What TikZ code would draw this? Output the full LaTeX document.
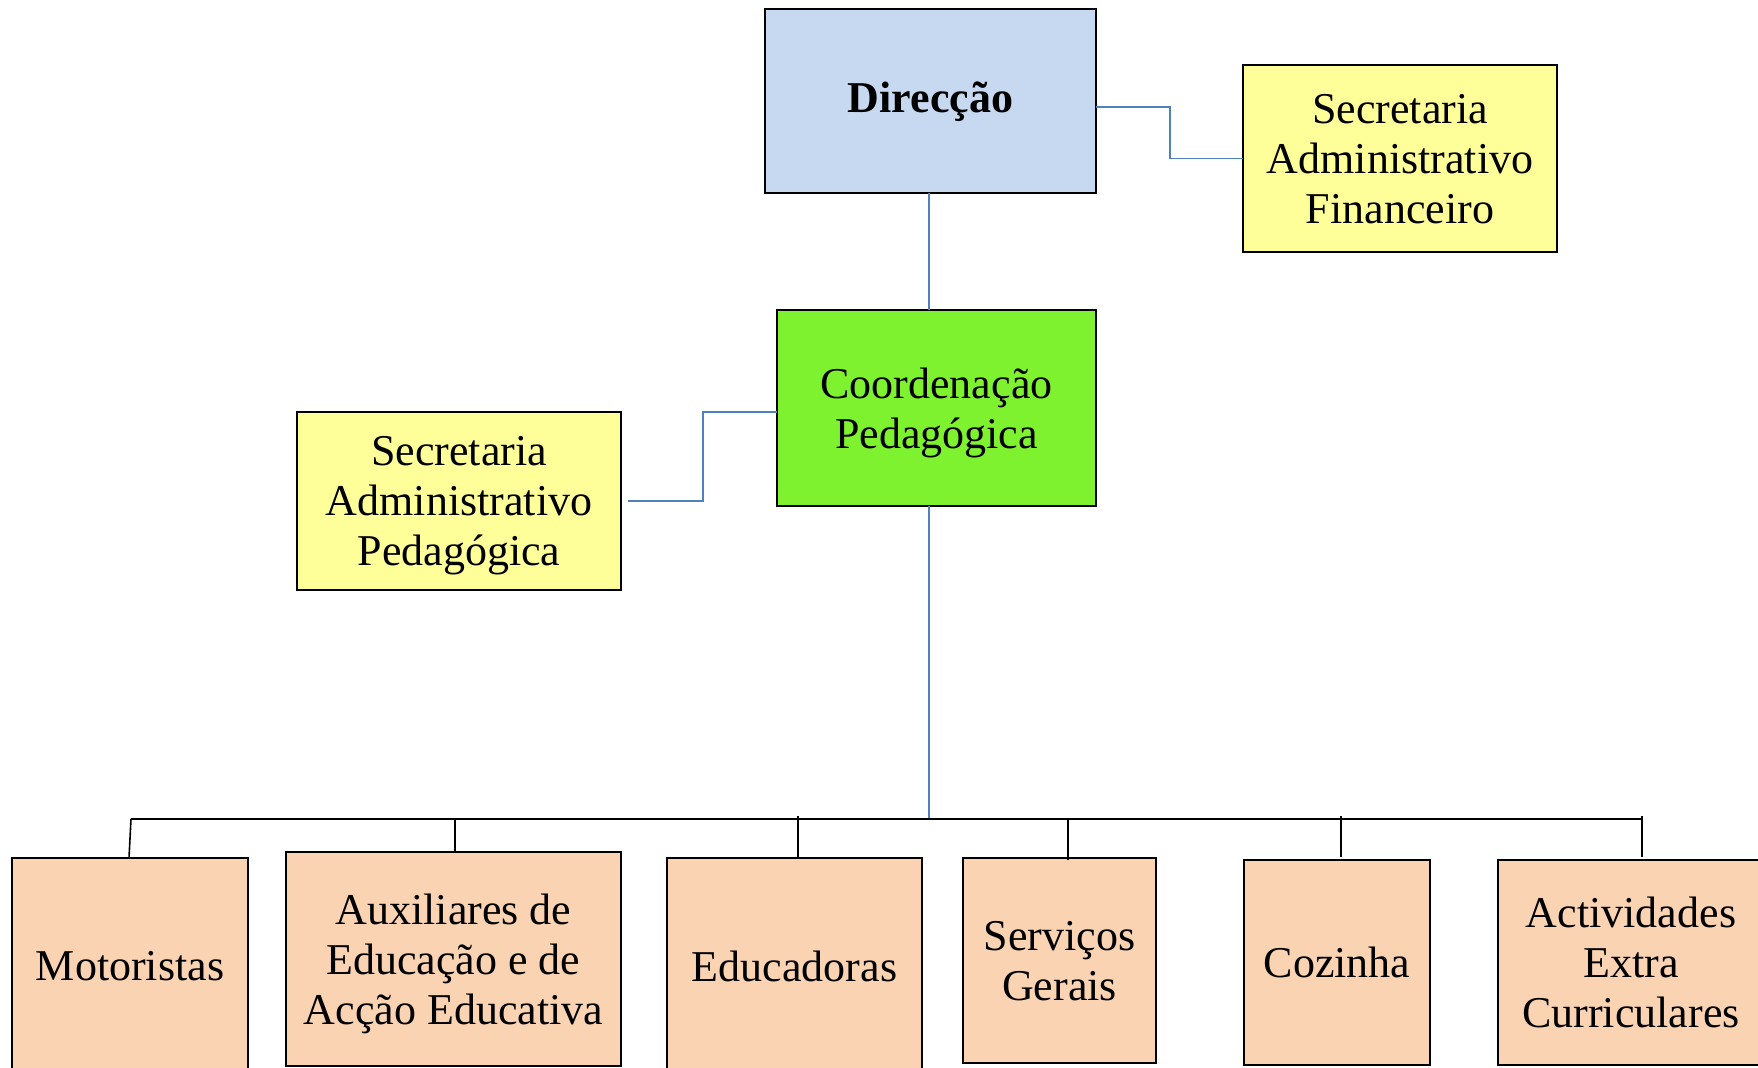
\documentclass[tikz,border=0pt]{standalone}
\usepackage{fontspec}
\setmainfont{Liberation Serif}
\usetikzlibrary{calc}
\definecolor{dirblue}{HTML}{C6D9F1}
\definecolor{coordgreen}{HTML}{7FF22F}
\definecolor{secyellow}{HTML}{FFFF99}
\definecolor{unitpeach}{HTML}{FAD3B3}
\definecolor{linkblue}{HTML}{4F81BD}
\tikzset{
  orgbox/.style={draw=black, line width=0.9pt, inner sep=0pt, outer sep=0pt,
    align=center, font=\fontsize{22}{25}\selectfont, anchor=center, text depth=0pt},
  dirbox/.style={orgbox, fill=dirblue, font=\fontsize{22}{25}\selectfont\bfseries, text depth=3.5pt},
  coordbox/.style={orgbox, fill=coordgreen},
  secbox/.style={orgbox, fill=secyellow},
  unitbox/.style={orgbox, fill=unitpeach},
  bluelink/.style={draw=linkblue, line width=0.8pt},
  buslink/.style={draw=black, line width=0.8pt}
}
\begin{document}
\begin{tikzpicture}[x=0.5pt, y=-0.5pt]
\useasboundingbox (0,0) rectangle (1758,1068);
\clip (0,0) rectangle (1758,1068);

% top level
\node[dirbox, minimum width=165.5pt, minimum height=92pt] (dir) at (930.5,101) {Direcção};
\node[secbox, minimum width=157pt, minimum height=93.5pt, text depth=-2.5pt] (fin) at (1400,158.5) {Secretaria\\Administrativo\\Financeiro};
\node[coordbox, minimum width=159.5pt, minimum height=98pt] (coord) at (936.5,408) {Coordenação\\Pedagógica};
\node[secbox, minimum width=162pt, minimum height=89pt] (ped) at (459,501) {Secretaria\\Administrativo\\Pedagógica};

% bottom units
\node[unitbox, minimum width=118pt, minimum height=108pt] (mot) at (130,966) {Motoristas};
\node[unitbox, minimum width=167.5pt, minimum height=107pt] (aux) at (453.5,959) {Auxiliares de\\Educação e de\\Acção Educativa};
\node[unitbox, minimum width=127.5pt, minimum height=108pt] (edu) at (794.5,966) {Educadoras};
\node[unitbox, minimum width=96.5pt, minimum height=102.5pt] (ser) at (1059.5,960.5) {Serviços\\Gerais};
\node[unitbox, minimum width=93pt, minimum height=102.5pt] (coz) at (1337,962.5) {Cozinha};
\node[unitbox, minimum width=133pt, minimum height=102.5pt] (act) at (1631,962.5) {Actividades\\Extra\\Curriculares};

% helper coordinates
\coordinate (jfin) at (1170,107);
\coordinate (jped) at (703,412);
\coordinate (pedend) at (628,501);
\coordinate (busc) at (929,819);
\coordinate (busl) at (131,819);
\coordinate (busr) at (1642,819);
\coordinate (dmot) at (131,819);
\coordinate (daux) at (455,819);
\coordinate (dedu) at (798,816);
\coordinate (dser) at (1068,819);
\coordinate (dcoz) at (1341,816);
\coordinate (dact) at (1642,816);

% blue connectors
\draw[bluelink] (dir.east |- jfin) -- (jfin) |- (fin.west);
\draw[bluelink] (dir.south -| busc) -- (coord.north -| busc);
\draw[bluelink] (coord.west |- jped) -- (jped) |- (pedend);
\draw[bluelink] (coord.south -| busc) -- (busc);

% bus and drops
\draw[buslink] (busl) -- (busr);
\draw[buslink] (dmot) -- ([xshift=-1pt]dmot |- mot.north);
\draw[buslink] (daux) -- (daux |- aux.north);
\draw[buslink] (dedu) -- (dedu |- edu.north);
\draw[buslink] (dser) -- ([yshift=-1pt]dser |- ser.north);
\draw[buslink] (dcoz) -- ([yshift=1.5pt]dcoz |- coz.north);
\draw[buslink] (dact) -- ([yshift=1.5pt]dact |- act.north);
\end{tikzpicture}
\end{document}
